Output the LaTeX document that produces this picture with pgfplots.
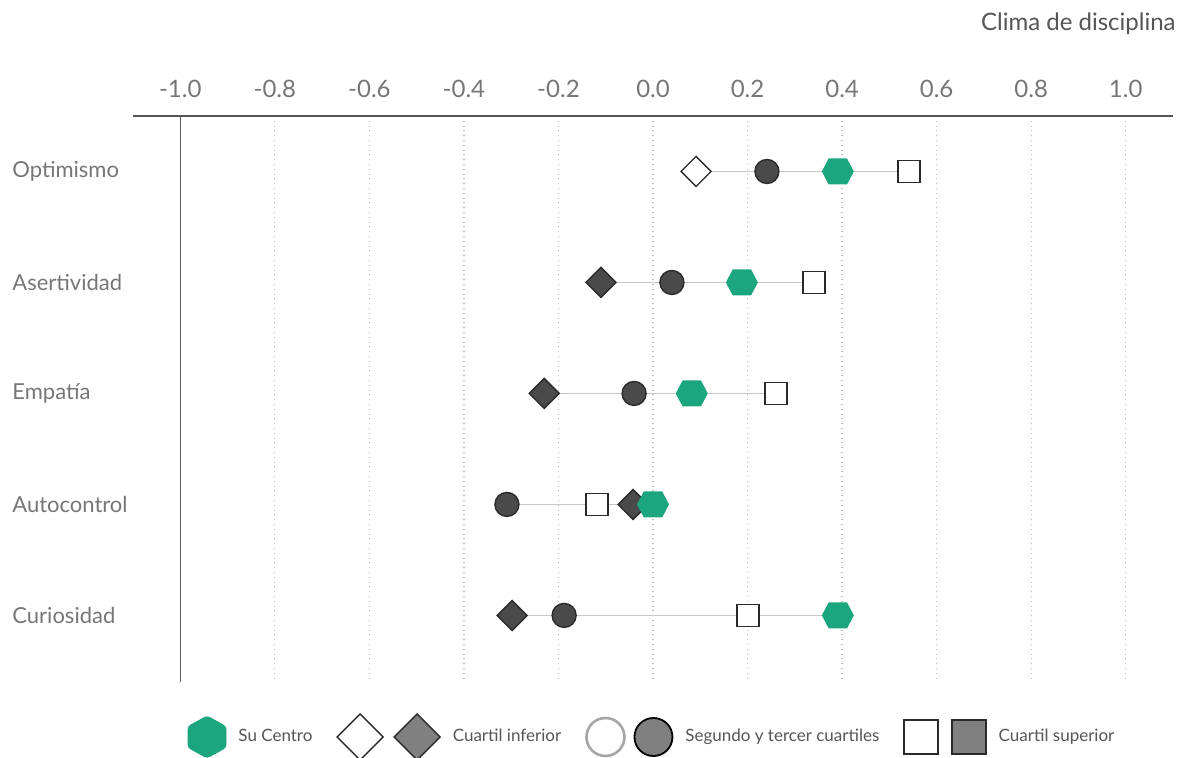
\documentclass[border=0pt]{standalone}
\usepackage{fontspec}
\setmainfont{Lato}
\usepackage{pgfplots}
\pgfplotsset{compat=1.18}
\usetikzlibrary{calc}
\definecolor{cgreen}{HTML}{1BA67F}
\definecolor{cdark}{HTML}{4A4A4A}
\definecolor{cedge}{HTML}{2A2A2A}
\definecolor{ctext}{HTML}{767676}
\definecolor{clegtext}{HTML}{555555}
\definecolor{caxis}{HTML}{555555}
\definecolor{cgrid}{HTML}{BBBBBB}
\definecolor{cline}{HTML}{C8C8C8}
\pgfdeclareplotmark{hexg}{%
  \pgfpathmoveto{\pgfqpoint{-8pt}{0pt}}%
  \pgfpathlineto{\pgfqpoint{-4.6pt}{6.5pt}}%
  \pgfpathlineto{\pgfqpoint{4.6pt}{6.5pt}}%
  \pgfpathlineto{\pgfqpoint{8pt}{0pt}}%
  \pgfpathlineto{\pgfqpoint{4.6pt}{-6.5pt}}%
  \pgfpathlineto{\pgfqpoint{-4.6pt}{-6.5pt}}%
  \pgfpathclose\pgfusepathqfill}
\pgfdeclareplotmark{rhomb}{%
  \pgfpathmoveto{\pgfqpoint{0pt}{7.5pt}}%
  \pgfpathlineto{\pgfqpoint{7.5pt}{0pt}}%
  \pgfpathlineto{\pgfqpoint{0pt}{-7.5pt}}%
  \pgfpathlineto{\pgfqpoint{-7.5pt}{0pt}}%
  \pgfpathclose\pgfusepathqfillstroke}
\begin{document}
\begin{tikzpicture}
\begin{axis}[
  scale only axis, width=520pt, height=283pt,
  xmin=-1.1, xmax=1.1, ymin=0.5, ymax=5.6, y dir=reverse,
  axis x line*=top, axis y line*=left,
  x axis line style={draw=caxis, line width=0.6pt, -},
  y axis line style={draw=none},
  xtick={-0.8,-0.6,-0.4,-0.2,0,0.2,0.4,0.6,0.8,1.0},
  extra x ticks={-1},
  extra x tick style={grid style={solid, draw=caxis, line width=0.6pt}},
  xmajorgrids,
  grid style={dotted, draw=cgrid, line width=0.6pt},
  major tick length=0pt,
  xticklabel style={font=\fontsize{12}{14}\selectfont, text=ctext, inner sep=0pt, yshift=9pt},
  ytick={1,2,3,4,5},
  yticklabels={Optimismo,Asertividad,Empatía,Autocontrol,Curiosidad},
  yticklabel style={font=\fontsize{11}{13}\selectfont, text=ctext, anchor=west, inner sep=0pt, xshift=-60.5pt},
  /pgf/number format/fixed, /pgf/number format/fixed zerofill,
  /pgf/number format/precision=1, /pgf/number format/assume math mode=true,
  title={Clima de disciplina},
  title style={at={(1,1)}, anchor=base east, inner sep=0pt, yshift=36.5pt, xshift=1.5pt,
    font=\fontsize{12}{14}\selectfont, text=clegtext},
  clip=false,
  legend columns=4,
  legend style={at={(0.5,0)}, anchor=center, yshift=-27.5pt, draw=none, fill=none,
    font=\fontsize{8.5}{10}\selectfont, text=clegtext,
    /tikz/every odd column/.append style={column sep=4pt},
    /tikz/every even column/.append style={column sep=10pt}},
]
% connector lines
\addplot[forget plot, cline, line width=0.9pt] coordinates {(0.091,1) (0.541,1)};
\addplot[forget plot, cline, line width=0.9pt] coordinates {(-0.110,2) (0.340,2)};
\addplot[forget plot, cline, line width=0.9pt] coordinates {(-0.230,3) (0.260,3)};
\addplot[forget plot, cline, line width=0.9pt] coordinates {(-0.309,4) (0.000,4)};
\addplot[forget plot, cline, line width=0.9pt] coordinates {(-0.298,5) (0.391,5)};
% cuartil inferior
\addplot[forget plot, only marks, mark=rhomb, mark options={fill=white, draw=cedge, line width=0.7pt}]
  coordinates {(0.091,1)};
\addplot[forget plot, only marks, mark=rhomb, mark options={fill=cdark, draw=cedge, line width=0.7pt}]
  coordinates {(-0.110,2) (-0.230,3) (-0.042,4) (-0.298,5)};
% segundo y tercer cuartiles
\addplot[forget plot, only marks, mark=*, mark size=6pt, mark options={fill=cdark, draw=cedge, line width=0.7pt}]
  coordinates {(0.241,1) (0.040,2) (-0.040,3) (-0.309,4) (-0.188,5)};
% cuartil superior
\addplot[forget plot, only marks, mark=square*, mark size=5.5pt, mark options={fill=white, draw=cedge, line width=0.8pt}]
  coordinates {(0.541,1) (0.340,2) (0.260,3) (-0.118,4) (0.201,5)};
% su centro
\addplot[forget plot, only marks, mark=hexg, mark options={fill=cgreen}]
  coordinates {(0.391,1) (0.188,2) (0.082,3) (0.000,4) (0.391,5)};
% legend
\addlegendimage{legend image code/.code={
  \fill[cgreen, rounded corners=1.5pt] (9.5pt,10.5pt) -- (19pt,5.25pt) -- (19pt,-5.25pt) -- (9.5pt,-10.5pt) -- (0pt,-5.25pt) -- (0pt,5.25pt) -- cycle;}}
\addlegendentry{Su Centro}
\addlegendimage{legend image code/.code={
  \draw[cedge, fill=white, line width=0.7pt] (0pt,0pt) -- (11.5pt,11.5pt) -- (23pt,0pt) -- (11.5pt,-11.5pt) -- cycle;
  \draw[cedge, fill=cdark!70!white, line width=0.7pt] (28.5pt,0pt) -- (40pt,11.5pt) -- (51.5pt,0pt) -- (40pt,-11.5pt) -- cycle;}}
\addlegendentry{Cuartil inferior}
\addlegendimage{legend image code/.code={
  \draw[gray!70, fill=white, line width=1.3pt] (10pt,0pt) circle (9.5pt);
  \draw[black, fill=cdark!70!white, line width=0.9pt] (34pt,0pt) circle (9.5pt);}}
\addlegendentry{Segundo y tercer cuartiles}
\addlegendimage{legend image code/.code={
  \draw[cedge, fill=white, line width=0.7pt] (0pt,-8.5pt) rectangle (17pt,8.5pt);
  \draw[cedge, fill=cdark!70!white, line width=0.7pt] (24pt,-8.5pt) rectangle (41pt,8.5pt);}}
\addlegendentry{Cuartil superior}
\end{axis}
\pgfresetboundingbox
\path[use as bounding box] ($(current axis.south west)+(-66.5pt,-38pt)$) rectangle ($(current axis.north east)+(5.5pt,58pt)$);
\end{tikzpicture}
\end{document}
